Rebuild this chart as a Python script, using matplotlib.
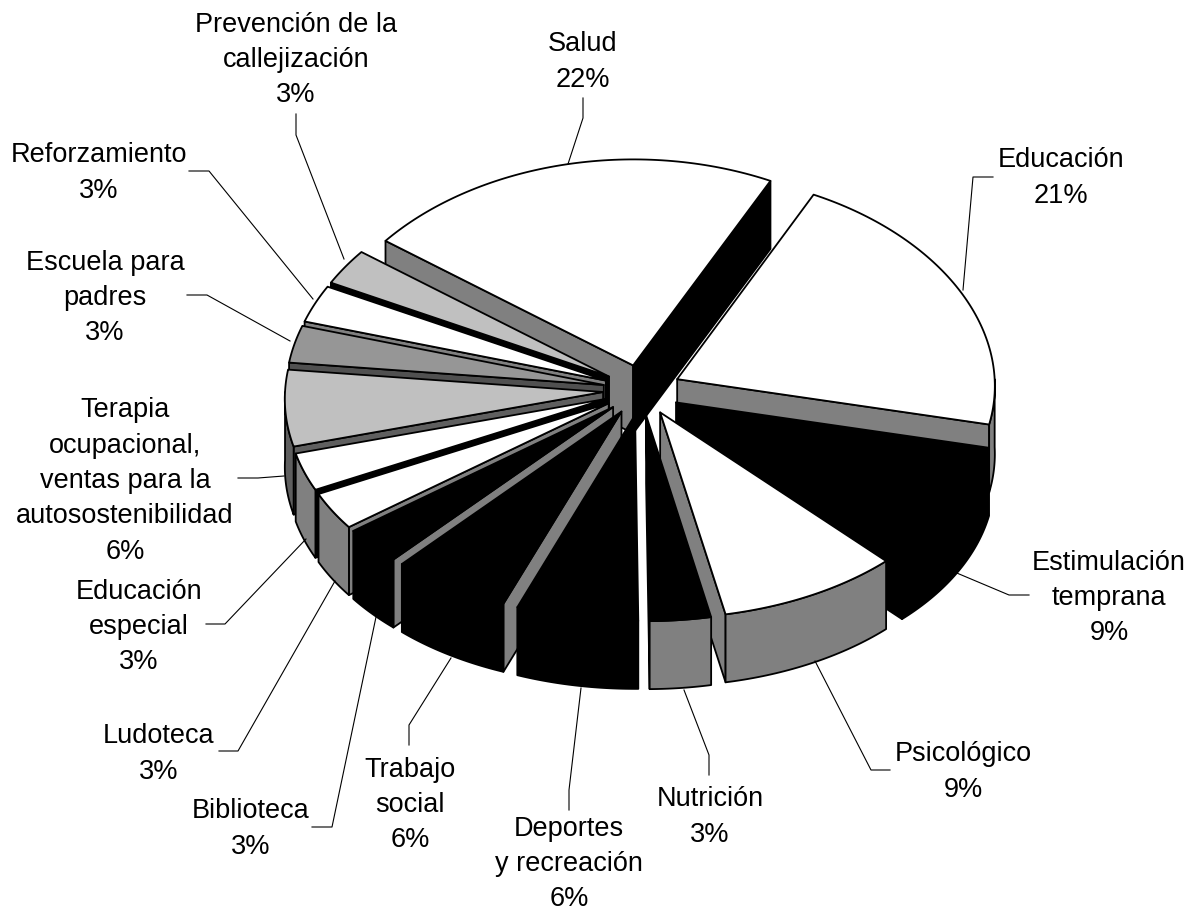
"""Exploded 3D pie of programme shares, drawn slice by slice back to front."""

import numpy as np
import matplotlib.pyplot as plt
from matplotlib.patches import Polygon

plt.rcParams['font.family'] = ['Liberation Sans', 'DejaVu Sans']

# clockwise from the top edge of Educacion
names = ['Educación', 'Estimulación\ntemprana', 'Psicológico', 'Nutrición',
         'Deportes\ny recreación', 'Trabajo\nsocial', 'Biblioteca', 'Ludoteca',
         'Educación\nespecial',
         'Terapia\nocupacional,\nventas para la\nautosostenibilidad',
         'Escuela para\npadres', 'Reforzamiento',
         'Prevención de la\ncallejización', 'Salud']
shares = [21.2, 9.3, 9.0, 3.0, 6.0, 5.9, 3.0, 3.0, 3.0, 6.0, 2.9, 2.9, 2.8, 22.0]

# styles, same order as the slices
top_colors = ['white', 'black', 'white', 'black', 'black', 'black', 'black',
              'white', 'white', '#c0c0c0', '#969696', 'white', '#c0c0c0', 'white']
rim_colors = ['#808080', 'black', '#808080', '#808080', 'black', 'black', 'black',
              '#808080', '#808080', '#5f5f5f', '#5f5f5f', 'white', '#c0c0c0', 'white']
start_wall = ['black', 'black', 'black', 'black', 'black', '#808080', '#808080',
              '#808080', 'black', '#5f5f5f', '#505050', '#808080', 'black', '#808080']
end_wall = ['#808080', 'black', '#808080', 'black', 'black', 'black', 'black',
            'black', 'black', 'black', 'black', 'black', 'black', 'black']

# layout in pixels of the 1199x914 picture
CENTER = (642, 390)
RADIUS_X = 318
RADIUS_Y = 206
EXPLODE = 39
DEPTH = 68
START = 26.4
PERSPECTIVE = 0.03

label_pos = [(1061, 178), (1109, 598), (963, 772), (710, 817), (569, 864),
             (410, 805), (251, 829), (159, 754), (139, 627), (125, 481),
             (105, 298), (99, 173), (296, 60), (583, 62)]
leaders = [
    [(963, 290), (973, 177), (993, 177)],
    [(952, 571), (1009, 595), (1029, 595)],
    [(815, 661), (871, 770), (890, 770)],
    [(684, 690), (709, 755), (709, 775)],
    [(581, 688), (569, 790), (569, 810)],
    [(451, 658), (409, 725), (409, 745)],
    [(376, 617), (332, 827), (312, 827)],
    [(335, 581), (238, 751), (219, 751)],
    [(306, 539), (225, 624), (206, 624)],
    [(284, 476), (258, 478), (238, 478)],
    [(290, 341), (207, 295), (187, 295)],
    [(313, 299), (209, 171), (189, 171)],
    [(344, 259), (296, 135), (296, 114)],
    [(568, 164), (583, 118), (583, 98)],
]


def on_disc(angle, off=(0.0, 0.0), scale=1.0):
    """Disc offset for an angle in degrees clockwise from the top, in radii"""
    rad = np.radians(angle)
    return off[0] + scale * np.sin(rad), off[1] - scale * np.cos(rad)


def to_pixels(point):
    """Map disc offsets to the picture, the near side drawn a little wider"""
    across, near = point
    return (CENTER[0] + RADIUS_X * across * (1 + PERSPECTIVE * near),
            CENTER[1] + RADIUS_Y * near)


def wall(off, angle):
    """Radial cut face of a slice, from the tip to the rim and down"""
    tip = np.array(to_pixels(off))
    outer = np.array(to_pixels(on_disc(angle, off)))
    down = np.array((0, DEPTH))
    return [tip, outer, outer + down, tip + down]


def draw_slice(ax, idx, first, last):
    """Draw walls, rim and top of one slice between two angles"""
    off = on_disc((first + last) / 2, scale=EXPLODE / RADIUS_X)
    edge = dict(edgecolor='black', linewidth=1.3, joinstyle='round')
    if 180 < first % 360 < 360:
        ax.add_patch(Polygon(wall(off, first), facecolor=start_wall[idx], **edge))
    if 0 < last % 360 < 180:
        ax.add_patch(Polygon(wall(off, last), facecolor=end_wall[idx], **edge))
    rim_from, rim_to = max(first, 90), min(last, 270)
    if rim_from < rim_to:
        arc = [to_pixels(on_disc(a, off)) for a in np.linspace(rim_from, rim_to, 40)]
        lower = [(x, y + DEPTH) for x, y in reversed(arc)]
        ax.add_patch(Polygon(arc + lower, facecolor=rim_colors[idx], **edge))
    arc = [to_pixels(on_disc(a, off)) for a in np.linspace(first, last, 80)]
    ax.add_patch(Polygon([to_pixels(off)] + arc, facecolor=top_colors[idx], **edge))


def main():
    """Plot the pie to out.png"""
    fig = plt.figure(figsize=(11.99, 9.14), dpi=100)
    ax = fig.add_axes([0, 0, 1, 1])
    ax.set_xlim(0, 1199)
    ax.set_ylim(914, 0)
    ax.axis('off')

    ends = START + 3.6 * np.cumsum(shares)
    starts = ends - 3.6 * np.array(shares)
    mids = (starts + ends) / 2
    for idx in np.argsort(-np.cos(np.radians(mids))):
        draw_slice(ax, idx, starts[idx], ends[idx])

    for points in leaders:
        xs, ys = zip(*points)
        ax.plot(xs, ys, color='black', linewidth=0.8)
    for name, share, pos in zip(names, shares, label_pos):
        ax.text(pos[0], pos[1], f'{name}\n{share:.0f}%', ha='center', va='center',
                fontsize=19.5, linespacing=1.47)
    fig.savefig('out.png', dpi=100)


if __name__ == '__main__':
    main()
